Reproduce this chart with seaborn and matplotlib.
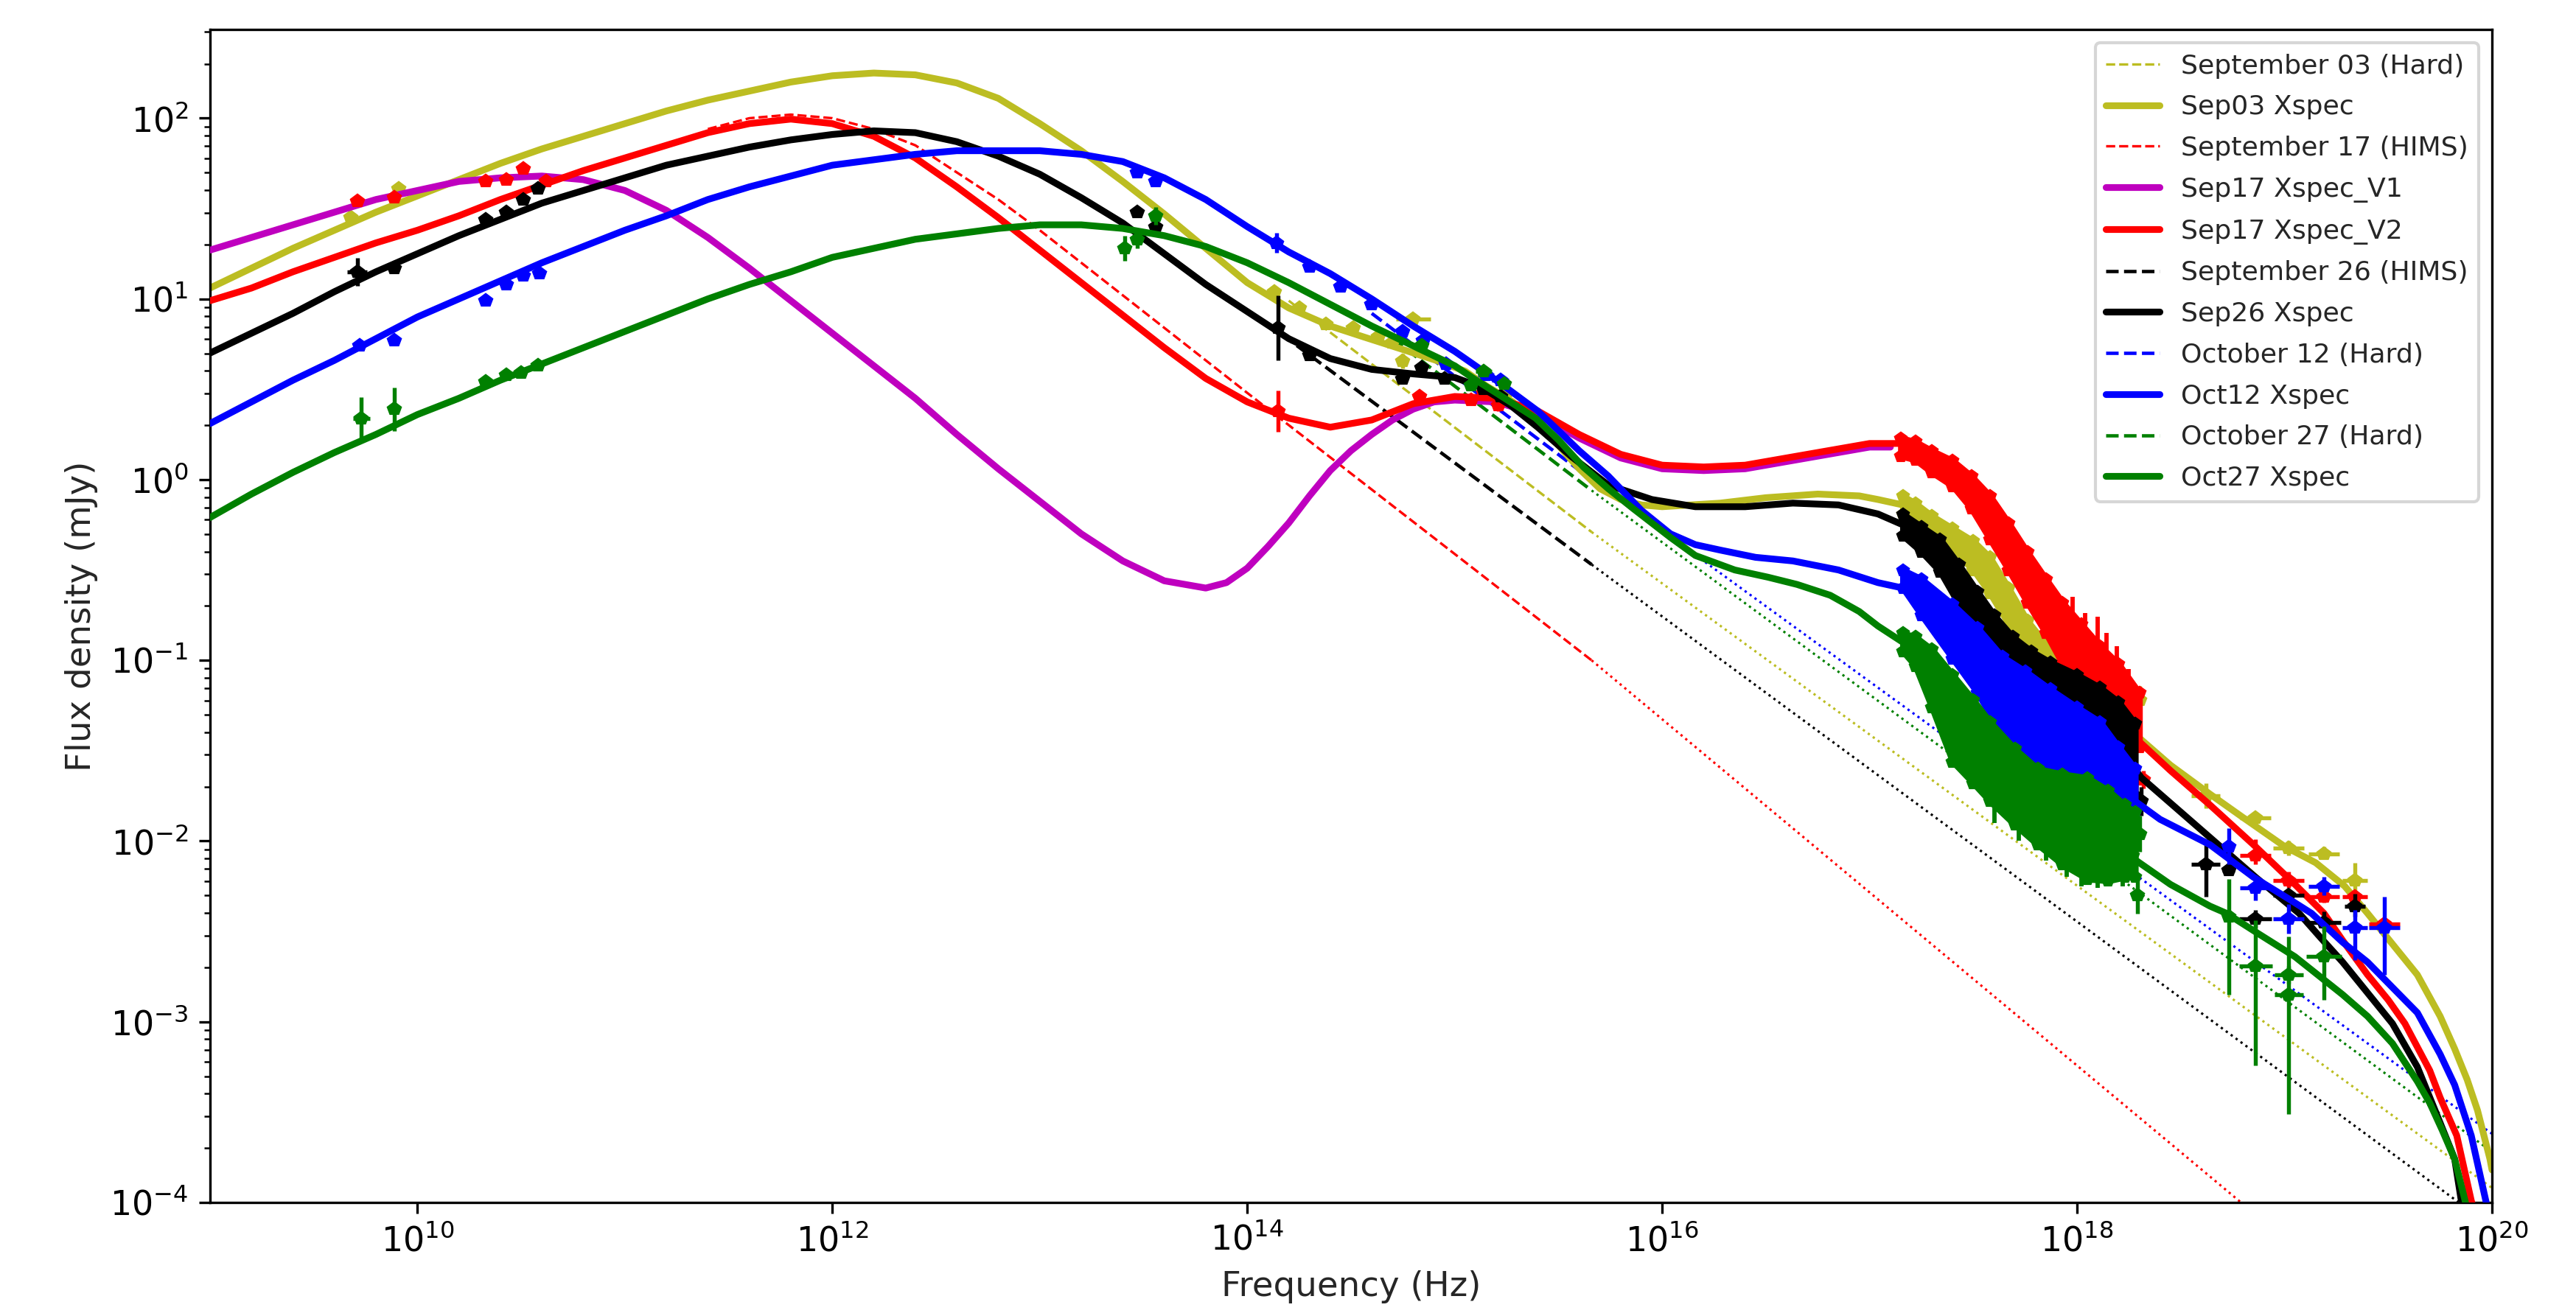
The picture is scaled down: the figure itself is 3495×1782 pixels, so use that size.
import numpy as np
import matplotlib
matplotlib.use("Agg")
import matplotlib.pyplot as plt
import matplotlib.ticker as mticker
import seaborn as sns
from matplotlib.lines import Line2D

# ---------------- model curves: log10(nu/Hz), log10(F/mJy) ----------------
sep03_lognu = [9.0, 9.2, 9.4, 9.6, 9.8, 10.0, 10.2, 10.4, 10.6, 10.8, 11.0, 11.2, 11.4, 11.6, 11.8, 12.0,
               12.2, 12.4, 12.6, 12.8, 13.0, 13.2, 13.4, 13.6, 13.8, 14.0, 14.2, 14.4, 14.56, 14.75, 14.91,
               15.05, 15.15, 15.28, 15.39, 15.5, 15.6, 15.7, 15.8, 15.9, 16.0, 16.28, 16.5, 16.75, 16.95,
               17.04, 17.16, 17.22, 17.3, 17.4, 17.5, 17.58, 17.67, 17.76, 17.85, 17.93, 18.05, 18.15,
               18.23, 18.29, 18.45, 18.64, 18.8, 19.0, 19.15, 19.29, 19.4, 19.52, 19.64, 19.75, 19.82,
               19.88, 19.93, 19.99, 20.0]
sep03_logF = [1.06, 1.17, 1.28, 1.38, 1.48, 1.57, 1.66, 1.75, 1.83, 1.9, 1.97, 2.04, 2.1, 2.15, 2.2, 2.235,
              2.25, 2.24, 2.195, 2.11, 1.97, 1.82, 1.65, 1.47, 1.28, 1.09, 0.95, 0.85, 0.79, 0.72, 0.66,
              0.6, 0.52, 0.43, 0.32, 0.19, 0.06, -0.05, -0.11, -0.14, -0.15, -0.13, -0.1, -0.08, -0.09,
              -0.11, -0.14, -0.18, -0.25, -0.33, -0.42, -0.53, -0.7, -0.88, -0.99, -1.07, -1.15, -1.23,
              -1.33, -1.42, -1.58, -1.74, -1.87, -2.03, -2.12, -2.25, -2.4, -2.57, -2.74, -2.97, -3.15,
              -3.32, -3.49, -3.76, -3.82]

sep17v1_lognu = [9.0, 9.2, 9.4, 9.6, 9.8, 10.0, 10.2, 10.4, 10.6, 10.8, 11.0, 11.2, 11.4, 11.6, 11.8, 12.0,
                 12.2, 12.4, 12.6, 12.8, 13.0, 13.2, 13.4, 13.6, 13.8, 13.9, 14.0, 14.1, 14.2, 14.3, 14.4,
                 14.5, 14.6, 14.7, 14.8, 14.9, 15.0, 15.2, 15.4, 15.6, 15.8, 16.0, 16.2, 16.4, 16.6, 16.8,
                 17.0, 17.1]
sep17v1_logF = [1.27, 1.34, 1.41, 1.48, 1.55, 1.6, 1.65, 1.67, 1.68, 1.66, 1.6, 1.49, 1.34, 1.17, 0.99, 0.81,
                0.63, 0.45, 0.25, 0.06, -0.12, -0.3, -0.45, -0.56, -0.6, -0.57, -0.49, -0.37, -0.24, -0.09,
                0.05, 0.16, 0.25, 0.33, 0.39, 0.43, 0.44, 0.43, 0.36, 0.23, 0.12, 0.06, 0.05, 0.06, 0.1,
                0.14, 0.18, 0.18]

sep17v2_lognu = [9.0, 9.2, 9.4, 9.6, 9.8, 10.0, 10.2, 10.4, 10.6, 10.8, 11.0, 11.2, 11.4, 11.6, 11.8, 12.0,
                 12.2, 12.4, 12.6, 12.8, 13.0, 13.2, 13.4, 13.6, 13.8, 14.0, 14.2, 14.4, 14.6, 14.8, 15.0,
                 15.2, 15.4, 15.6, 15.8, 16.0, 16.2, 16.4, 16.6, 16.8, 17.0, 17.15, 17.3, 17.4, 17.49,
                 17.58, 17.67, 17.76, 17.85, 17.93, 18.02, 18.11, 18.2, 18.3, 18.45, 18.64, 18.85, 19.05,
                 19.19, 19.28, 19.4, 19.5, 19.58, 19.7, 19.75, 19.83, 19.9, 19.93]
sep17v2_logF = [0.99, 1.06, 1.15, 1.23, 1.31, 1.38, 1.46, 1.55, 1.63, 1.71, 1.78, 1.85, 1.92, 1.97, 1.995, 1.97,
                1.9, 1.78, 1.62, 1.45, 1.27, 1.09, 0.91, 0.73, 0.56, 0.43, 0.34, 0.29, 0.33, 0.42, 0.46,
                0.45, 0.38, 0.25, 0.14, 0.08, 0.07, 0.08, 0.12, 0.16, 0.2, 0.2, 0.1, 0.035, -0.07,
                -0.21, -0.37, -0.54, -0.7, -0.85, -0.96, -1.07, -1.2, -1.45, -1.61, -1.8, -2.02, -2.24,
                -2.4, -2.55, -2.74, -2.88, -3.01, -3.27, -3.42, -3.63, -3.99, -4.1]

sep26_lognu = [9.0, 9.2, 9.4, 9.6, 9.8, 10.0, 10.2, 10.4, 10.6, 10.8, 11.0, 11.2, 11.4, 11.6, 11.8, 12.0,
               12.2, 12.4, 12.6, 12.8, 13.0, 13.2, 13.4, 13.6, 13.8, 14.0, 14.2, 14.4, 14.6, 14.8, 15.0,
               15.13, 15.27, 15.4, 15.56, 15.74, 15.95, 16.16, 16.4, 16.63, 16.85, 17.04, 17.16, 17.25,
               17.34, 17.43, 17.52, 17.6, 17.69, 17.78, 17.87, 18.0, 18.11, 18.2, 18.31, 18.45, 18.64,
               18.86, 19.07, 19.17, 19.28, 19.4, 19.52, 19.64, 19.75, 19.82, 19.86]
sep26_logF = [0.7, 0.81, 0.92, 1.04, 1.15, 1.25, 1.35, 1.44, 1.53, 1.6, 1.67, 1.74, 1.79, 1.84, 1.88, 1.91,
              1.93, 1.92, 1.87, 1.79, 1.69, 1.56, 1.42, 1.25, 1.08, 0.93, 0.78, 0.67, 0.61, 0.585, 0.565,
              0.51, 0.41, 0.29, 0.13, -0.03, -0.11, -0.15, -0.15, -0.13, -0.14, -0.19, -0.25, -0.33,
              -0.42, -0.58, -0.75, -0.88, -1.0, -1.08, -1.15, -1.25, -1.36, -1.48, -1.65, -1.79, -1.98,
              -2.2, -2.4, -2.53, -2.67, -2.84, -3.01, -3.25, -3.56, -3.76, -4.05]

oct12_lognu = [9.0, 9.2, 9.4, 9.6, 9.8, 10.0, 10.2, 10.4, 10.6, 10.8, 11.0, 11.2, 11.4, 11.6, 11.8, 12.0,
               12.2, 12.4, 12.6, 12.8, 13.0, 13.2, 13.4, 13.6, 13.8, 14.0, 14.2, 14.4, 14.6, 14.8, 15.0,
               15.2, 15.4, 15.51, 15.6, 15.74, 15.9, 16.04, 16.16, 16.28, 16.45, 16.63, 16.85, 17.04,
               17.16, 17.25, 17.4, 17.52, 17.64, 17.75, 17.87, 18.0, 18.11, 18.2, 18.28, 18.4, 18.64,
               18.85, 19.02, 19.13, 19.28, 19.4, 19.52, 19.64, 19.75, 19.82, 19.9, 19.97, 20.0]
oct12_logF = [0.31, 0.43, 0.55, 0.66, 0.78, 0.9, 1.0, 1.1, 1.2, 1.29, 1.38, 1.46, 1.55, 1.62, 1.68, 1.74,
              1.77, 1.8, 1.82, 1.82, 1.82, 1.8, 1.76, 1.67, 1.55, 1.4, 1.26, 1.14, 1.0, 0.85, 0.71,
              0.55, 0.38, 0.26, 0.16, 0.02, -0.17, -0.3, -0.36, -0.39, -0.43, -0.45, -0.5, -0.57,
              -0.6, -0.67, -0.84, -1.0, -1.18, -1.32, -1.45, -1.53, -1.6, -1.68, -1.78, -1.88, -2.02,
              -2.2, -2.32, -2.4, -2.56, -2.67, -2.81, -2.95, -3.18, -3.35, -3.63, -3.99, -4.15]

oct27_lognu = [9.0, 9.2, 9.4, 9.6, 9.8, 10.0, 10.2, 10.4, 10.6, 10.8, 11.0, 11.2, 11.4, 11.6, 11.8, 12.0,
               12.2, 12.4, 12.6, 12.8, 13.0, 13.2, 13.4, 13.6, 13.8, 14.0, 14.2, 14.4, 14.6, 14.8, 15.0,
               15.09, 15.2, 15.39, 15.5, 15.62, 15.74, 15.86, 16.04, 16.16, 16.35, 16.51, 16.65, 16.81,
               16.95, 17.04, 17.16, 17.3, 17.5, 17.7, 17.9, 18.1, 18.25, 18.45, 18.64, 18.72, 18.87,
               19.05, 19.28, 19.4, 19.52, 19.64, 19.7, 19.76, 19.82, 19.87, 19.9]
oct27_logF = [-0.21, -0.08, 0.04, 0.15, 0.25, 0.36, 0.45, 0.55, 0.64, 0.73, 0.82, 0.91, 1.0, 1.08, 1.15, 1.23,
              1.28, 1.33, 1.36, 1.39, 1.41, 1.41, 1.39, 1.35, 1.29, 1.2, 1.09, 0.97, 0.85, 0.74, 0.63,
              0.56, 0.48, 0.34, 0.22, 0.07, -0.05, -0.16, -0.32, -0.42, -0.5, -0.54, -0.58, -0.64,
              -0.73, -0.81, -0.9, -1.08, -1.35, -1.6, -1.8, -1.95, -2.08, -2.24, -2.36, -2.4, -2.51,
              -2.64, -2.85, -2.97, -3.12, -3.33, -3.45, -3.6, -3.76, -3.99, -4.15]

# jet ("Hard"/"HIMS") models: dashed part, then dotted extrapolation
sep03_hard_dash_lognu = [14.2, 15.66]
sep03_hard_dash_logF = [0.99, -0.29]
sep03_hard_dot_lognu = [15.66, 20.0]
sep03_hard_dot_logF = [-0.29, -3.92]
sep17_hims_dash_lognu = [11.4, 11.6, 11.8, 12.0, 12.2, 12.4, 12.6, 12.8, 13.0, 14.0, 15.66]
sep17_hims_dash_logF = [1.94, 2.0, 2.02, 2.0, 1.94, 1.85, 1.7, 1.55, 1.38, 0.48, -1.0]
sep17_hims_dot_lognu = [15.66, 18.79]
sep17_hims_dot_logF = [-1.0, -4.0]
sep26_hims_dash_lognu = [14.1, 15.66]
sep26_hims_dash_logF = [0.86, -0.47]
sep26_hims_dot_lognu = [15.66, 19.84]
sep26_hims_dot_logF = [-0.47, -4.0]
oct12_hard_dash_lognu = [14.6, 15.66]
oct12_hard_dash_logF = [0.92, 0.0]
oct12_hard_dot_lognu = [15.66, 20.0]
oct12_hard_dot_logF = [0.0, -3.62]
oct27_hard_dash_lognu = [14.7, 15.66]
oct27_hard_dash_logF = [0.78, -0.06]
oct27_hard_dot_lognu = [15.66, 20.0]
oct27_hard_dot_logF = [-0.06, -3.72]

# ---------------- soft X-ray spectra: band centre and half width (dex) ----------------
sep03_xr_lognu = [17.16, 17.22, 17.3, 17.4, 17.5, 17.58, 17.67, 17.76, 17.85, 17.93, 18.05, 18.15, 18.25]
sep03_xr_logF = [-0.14, -0.18, -0.25, -0.33, -0.42, -0.53, -0.7, -0.88, -0.99, -1.07, -1.15, -1.2, -1.27]
sep03_xr_hw = [0.05, 0.05, 0.05, 0.06, 0.08, 0.1, 0.1, 0.1, 0.08, 0.07, 0.07, 0.08, 0.1]

sep17_xr_lognu = [17.15, 17.22, 17.3, 17.4, 17.49, 17.58, 17.67, 17.76, 17.85, 17.93, 18.02, 18.11, 18.2, 18.3]
sep17_xr_logF = [0.18, 0.16, 0.1, 0.035, -0.07, -0.21, -0.37, -0.54, -0.7, -0.85, -0.96, -1.07, -1.16, -1.33]
sep17_xr_hw = [0.05, 0.05, 0.06, 0.07, 0.09, 0.12, 0.13, 0.14, 0.15, 0.17, 0.16, 0.15, 0.14, 0.15]

sep26_xr_lognu = [17.16, 17.25, 17.34, 17.43, 17.52, 17.6, 17.69, 17.78, 17.87, 18.0, 18.11, 18.2, 18.28]
sep26_xr_logF = [-0.25, -0.33, -0.42, -0.58, -0.75, -0.88, -1.0, -1.08, -1.15, -1.22, -1.29, -1.4, -1.55]
sep26_xr_hw = [0.06, 0.07, 0.09, 0.11, 0.13, 0.13, 0.13, 0.13, 0.14, 0.14, 0.14, 0.17, 0.2]

oct12_xr_lognu = [17.16, 17.25, 17.4, 17.52, 17.64, 17.75, 17.87, 18.0, 18.11, 18.2, 18.28]
oct12_xr_logF = [-0.55, -0.65, -0.84, -1.0, -1.2, -1.33, -1.46, -1.53, -1.57, -1.65, -1.72]
oct12_xr_hw = [0.05, 0.1, 0.15, 0.18, 0.22, 0.27, 0.3, 0.27, 0.23, 0.17, 0.12]

oct27_xr_lognu = [17.16, 17.22, 17.3, 17.4, 17.5, 17.58, 17.7, 17.81, 17.93, 18.05, 18.15, 18.23, 18.28]
oct27_xr_logF = [-0.9, -0.95, -1.1, -1.32, -1.45, -1.56, -1.7, -1.81, -1.88, -1.93, -1.97, -2.0, -2.02]
oct27_xr_hw = [0.05, 0.08, 0.16, 0.24, 0.23, 0.22, 0.21, 0.21, 0.25, 0.28, 0.25, 0.2, 0.18]

# individual noisy X-ray bins sticking out of the bands: log nu, log F, half error (dex)
sep17_sp_lognu = [17.98, 18.04, 18.1, 18.14, 18.19, 18.25]
sep17_sp_logF = [-0.85, -0.92, -0.98, -1.05, -1.12, -1.25]
sep17_sp_dy = [0.2, 0.18, 0.22, 0.2, 0.2, 0.2]
oct12_sp_lognu = [17.5, 17.73, 17.95, 18.1, 18.2]
oct12_sp_logF = [-0.98, -1.3, -1.47, -1.52, -1.78]
oct12_sp_dy = [0.05, 0.06, 0.08, 0.1, 0.08]
oct27_sp_lognu = [17.6, 17.72, 17.85, 17.95, 18.02, 18.1, 18.16, 18.22, 18.27]
oct27_sp_logF = [-1.78, -1.88, -1.98, -2.06, -2.1, -2.12, -2.1, -2.12, -2.08]
oct27_sp_dy = [0.12, 0.12, 0.13, 0.14, 0.15, 0.14, 0.13, 0.13, 0.12]

# ---------------- radio / IR / optical / UV points (log nu, log F, x and y half errors in dex) ----------------
sep03_pt_lognu = [9.68, 9.91, 14.13, 14.25, 14.38, 14.51, 14.63, 14.7, 14.75, 14.8, 15.25]
sep03_pt_logF = [1.45, 1.61, 1.04, 0.95, 0.86, 0.84, 0.79, 0.76, 0.655, 0.89, 0.48]
sep03_pt_dx = [0.02, 0.02, 0.01, 0.01, 0.01, 0.01, 0.01, 0.01, 0.01, 0.083, 0.01]
sep03_pt_dy = [0.02, 0.02, 0.02, 0.02, 0.02, 0.02, 0.02, 0.02, 0.04, 0.02, 0.02]

sep17_pt_lognu = [9.71, 9.89, 10.33, 10.43, 10.51, 10.62, 14.15, 14.83, 15.08, 15.14, 15.21]
sep17_pt_logF = [1.54, 1.56, 1.65, 1.66, 1.72, 1.65, 0.38, 0.46, 0.44, 0.48, 0.41]
sep17_pt_dx = [0.02, 0.02, 0.01, 0.01, 0.01, 0.01, 0.02, 0.01, 0.01, 0.01, 0.01]
sep17_pt_dy = [0.02, 0.02, 0.02, 0.02, 0.02, 0.02, 0.115, 0.02, 0.02, 0.02, 0.03]

sep26_pt_lognu = [9.71, 9.89, 10.33, 10.43, 10.51, 10.58, 13.47, 13.56, 14.15, 14.3, 14.75, 14.84, 14.95,
                  15.14, 15.22]
sep26_pt_logF = [1.15, 1.17, 1.44, 1.48, 1.55, 1.61, 1.48, 1.4, 0.84, 0.69, 0.56, 0.62, 0.56,
                 0.5, 0.46]
sep26_pt_dx = [0.047, 0.02, 0.01, 0.01, 0.01, 0.01, 0.01, 0.01, 0.02, 0.01, 0.01, 0.01, 0.01, 0.01, 0.01]
sep26_pt_dy = [0.078, 0.02, 0.02, 0.02, 0.02, 0.02, 0.03, 0.03, 0.18, 0.02, 0.02, 0.02, 0.02, 0.02, 0.02]

oct12_pt_lognu = [9.72, 9.89, 10.33, 10.43, 10.51, 10.59, 13.47, 13.56, 14.14, 14.3, 14.45, 14.6, 14.75,
                  14.85, 14.96, 15.15, 15.22]
oct12_pt_logF = [0.74, 0.77, 0.99, 1.08, 1.13, 1.14, 1.7, 1.65, 1.31, 1.18, 1.07, 0.97, 0.82,
                 0.77, 0.64, 0.58, 0.55]
oct12_pt_dx = [0.02, 0.02, 0.01, 0.01, 0.01, 0.01, 0.01, 0.01, 0.02, 0.01, 0.01, 0.01, 0.01,
               0.01, 0.01, 0.04, 0.04]
oct12_pt_dy = [0.02, 0.02, 0.02, 0.02, 0.02, 0.02, 0.02, 0.02, 0.055, 0.02, 0.02, 0.02, 0.02,
               0.02, 0.02, 0.02, 0.02]

oct27_pt_lognu = [9.73, 9.89, 10.33, 10.43, 10.5, 10.58, 13.41, 13.47, 13.56, 14.84, 15.08, 15.14, 15.24]
oct27_pt_logF = [0.34, 0.39, 0.54, 0.58, 0.59, 0.63, 1.28, 1.33, 1.46, 0.74, 0.52, 0.6, 0.53]
oct27_pt_dx = [0.04, 0.02, 0.01, 0.01, 0.01, 0.01, 0.01, 0.01, 0.01, 0.01, 0.01, 0.04, 0.01]
oct27_pt_dy = [0.117, 0.12, 0.02, 0.02, 0.02, 0.02, 0.07, 0.05, 0.05, 0.02, 0.02, 0.02, 0.02]

# ---------------- hard X-ray points (log nu, log F, x half error, y lower / upper error in dex) ----------------
sep03_hx_lognu = [18.3, 18.62, 18.86, 19.02, 19.19, 19.34]
sep03_hx_logF = [-1.22, -1.75, -1.87, -2.04, -2.07, -2.22]
sep03_hx_dx = [0.0, 0.07, 0.075, 0.075, 0.075, 0.06]
sep03_hx_dylo = [0.08, 0.07, 0.03, 0.04, 0.03, 0.07]
sep03_hx_dyhi = [0.08, 0.07, 0.03, 0.04, 0.04, 0.1]

sep17_hx_lognu = [18.32, 18.86, 19.02, 19.19, 19.34, 19.48]
sep17_hx_logF = [-1.66, -2.08, -2.22, -2.31, -2.31, -2.46]
sep17_hx_dx = [0.0, 0.075, 0.075, 0.075, 0.06, 0.075]
sep17_hx_dylo = [0.05, 0.05, 0.04, 0.03, 0.03, 0.03]
sep17_hx_dyhi = [0.05, 0.09, 0.05, 0.03, 0.03, 0.03]

sep26_hx_lognu = [18.31, 18.62, 18.73, 18.86, 19.02, 19.19, 19.34]
sep26_hx_logF = [-1.78, -2.13, -2.16, -2.43, -2.3, -2.45, -2.36]
sep26_hx_dx = [0.0, 0.07, 0.03, 0.078, 0.075, 0.08, 0.05]
sep26_hx_dylo = [0.08, 0.18, 0.03, 0.05, 0.03, 0.05, 0.06]
sep26_hx_dyhi = [0.08, 0.14, 0.03, 0.05, 0.03, 0.06, 0.07]

oct12_hx_lognu = [18.73, 18.86, 19.02, 19.19, 19.34, 19.48]
oct12_hx_logF = [-2.03, -2.26, -2.43, -2.25, -2.48, -2.48]
oct12_hx_dx = [0.02, 0.075, 0.075, 0.075, 0.06, 0.075]
oct12_hx_dylo = [0.1, 0.07, 0.08, 0.05, 0.18, 0.26]
oct12_hx_dyhi = [0.1, 0.07, 0.08, 0.05, 0.1, 0.17]

oct27_hx_lognu = [18.3, 18.29, 18.73, 18.86, 19.02, 19.02, 19.19]
oct27_hx_logF = [-1.96, -2.3, -2.42, -2.69, -2.74, -2.85, -2.64]
oct27_hx_dx = [0.0, 0.0, 0.02, 0.08, 0.07, 0.07, 0.085]
oct27_hx_dylo = [0.1, 0.1, 0.43, 0.55, 0.05, 0.66, 0.24]
oct27_hx_dyhi = [0.1, 0.1, 0.21, 0.25, 0.05, 0.32, 0.17]

# axis ticks
x_tick_exponents = [10, 12, 14, 16, 18, 20]
y_tick_exponents = [-4, -3, -2, -1, 0, 1, 2]

# ---------------- styling ----------------
C_OLIVE = '#bcbd22'
C_RED = '#ff0000'
C_MAG = '#bf00bf'
C_BLACK = '#000000'
C_BLUE = '#0000ff'
C_GREEN = '#008000'

sns.set_style("ticks")
plt.rcParams['font.family'] = ['DejaVu Sans']
plt.rcParams['mathtext.fontset'] = 'dejavusans'

fig = plt.figure(figsize=(3495 / 300, 1782 / 300), dpi=300)
ax = fig.add_axes([0.0815, 0.0842, 0.8859, 0.8934])
ax.set_xscale('log')
ax.set_yscale('log')


def P(a):
    return 10.0 ** np.asarray(a, dtype=float)


def line(lx, ly, color, lw, ls='-', z=2):
    sns.lineplot(x=P(lx), y=P(ly), ax=ax, color=color, linewidth=lw, linestyle=ls,
                 estimator=None, sort=False, zorder=z, legend=False)


def band(lx, ly, hw, color, z):
    ly = np.asarray(ly)
    hw = np.asarray(hw)
    ax.fill_between(P(lx), P(ly - hw), P(ly + hw), facecolor=color, edgecolor=color, lw=2.0, zorder=z)
    ax.plot(P(lx), P(ly + hw), 'p', color=color, ms=3.5, zorder=z)
    ax.plot(P(lx), P(ly - hw), 'p', color=color, ms=3.5, zorder=z)


def spikes(lx, ly, dy, color, z):
    lx = np.asarray(lx); ly = np.asarray(ly); dy = np.asarray(dy)
    y = P(ly)
    ax.errorbar(P(lx), y, yerr=[y - P(ly - dy), P(ly + dy) - y], fmt='p', ms=3.5, color=color,
                elinewidth=1.4, capsize=0, zorder=z)


def points(lx, ly, dx, dylo, dyhi, color, z):
    lx = np.asarray(lx); ly = np.asarray(ly); dx = np.asarray(dx)
    dylo = np.asarray(dylo); dyhi = np.asarray(dyhi)
    x = P(lx); y = P(ly)
    xerr = [x - P(lx - dx), P(lx + dx) - x]
    yerr = [y - P(ly - dylo), P(ly + dyhi) - y]
    ax.errorbar(x, y, xerr=xerr, yerr=yerr, fmt='p', ms=3.8, color=color,
                elinewidth=1.3, capsize=0, zorder=z)


LW = 2.2
# jet models (below everything)
line(sep03_hard_dash_lognu, sep03_hard_dash_logF, C_OLIVE, 0.8, '--', 1.5)
line(sep03_hard_dot_lognu, sep03_hard_dot_logF, C_OLIVE, 0.75, ':', 1.5)
line(sep17_hims_dash_lognu, sep17_hims_dash_logF, C_RED, 0.8, '--', 1.5)
line(sep17_hims_dot_lognu, sep17_hims_dot_logF, C_RED, 0.75, ':', 1.5)
line(sep26_hims_dash_lognu, sep26_hims_dash_logF, C_BLACK, 1.1, '--', 1.5)
line(sep26_hims_dot_lognu, sep26_hims_dot_logF, C_BLACK, 0.75, ':', 1.5)
line(oct12_hard_dash_lognu, oct12_hard_dash_logF, C_BLUE, 1.1, '--', 1.5)
line(oct12_hard_dot_lognu, oct12_hard_dot_logF, C_BLUE, 0.75, ':', 1.5)
line(oct27_hard_dash_lognu, oct27_hard_dash_logF, C_GREEN, 1.1, '--', 1.5)
line(oct27_hard_dot_lognu, oct27_hard_dot_logF, C_GREEN, 0.75, ':', 1.5)

# Sep 03
line(sep03_lognu, sep03_logF, C_OLIVE, LW, '-', 2.0)
band(sep03_xr_lognu, sep03_xr_logF, sep03_xr_hw, C_OLIVE, 2.1)
points(sep03_pt_lognu, sep03_pt_logF, sep03_pt_dx, sep03_pt_dy, sep03_pt_dy, C_OLIVE, 2.2)
points(sep03_hx_lognu, sep03_hx_logF, sep03_hx_dx, sep03_hx_dylo, sep03_hx_dyhi, C_OLIVE, 2.2)
# Sep 17
line(sep17v1_lognu, sep17v1_logF, C_MAG, LW, '-', 3.0)
line(sep17v2_lognu, sep17v2_logF, C_RED, LW, '-', 3.05)
band(sep17_xr_lognu, sep17_xr_logF, sep17_xr_hw, C_RED, 3.1)
spikes(sep17_sp_lognu, sep17_sp_logF, sep17_sp_dy, C_RED, 3.1)
points(sep17_pt_lognu, sep17_pt_logF, sep17_pt_dx, sep17_pt_dy, sep17_pt_dy, C_RED, 3.2)
points(sep17_hx_lognu, sep17_hx_logF, sep17_hx_dx, sep17_hx_dylo, sep17_hx_dyhi, C_RED, 3.2)
# Sep 26
line(sep26_lognu, sep26_logF, C_BLACK, LW, '-', 4.0)
band(sep26_xr_lognu, sep26_xr_logF, sep26_xr_hw, C_BLACK, 4.1)
points(sep26_pt_lognu, sep26_pt_logF, sep26_pt_dx, sep26_pt_dy, sep26_pt_dy, C_BLACK, 4.2)
points(sep26_hx_lognu, sep26_hx_logF, sep26_hx_dx, sep26_hx_dylo, sep26_hx_dyhi, C_BLACK, 4.2)
# Oct 12
line(oct12_lognu, oct12_logF, C_BLUE, LW, '-', 5.0)
band(oct12_xr_lognu, oct12_xr_logF, oct12_xr_hw, C_BLUE, 5.1)
spikes(oct12_sp_lognu, oct12_sp_logF, oct12_sp_dy, C_BLUE, 5.1)
points(oct12_pt_lognu, oct12_pt_logF, oct12_pt_dx, oct12_pt_dy, oct12_pt_dy, C_BLUE, 5.2)
points(oct12_hx_lognu, oct12_hx_logF, oct12_hx_dx, oct12_hx_dylo, oct12_hx_dyhi, C_BLUE, 5.2)
# Oct 27
line(oct27_lognu, oct27_logF, C_GREEN, LW, '-', 6.0)
band(oct27_xr_lognu, oct27_xr_logF, oct27_xr_hw, C_GREEN, 6.1)
spikes(oct27_sp_lognu, oct27_sp_logF, oct27_sp_dy, C_GREEN, 6.1)
points(oct27_pt_lognu, oct27_pt_logF, oct27_pt_dx, oct27_pt_dy, oct27_pt_dy, C_GREEN, 6.2)
points(oct27_hx_lognu, oct27_hx_logF, oct27_hx_dx, oct27_hx_dylo, oct27_hx_dyhi, C_GREEN, 6.2)

ax.set_xlim(1e9, 1e20)
ax.set_ylim(1e-4, 3.1e2)
ax.xaxis.set_major_locator(mticker.FixedLocator(P(x_tick_exponents)))
ax.yaxis.set_major_locator(mticker.FixedLocator(P(y_tick_exponents)))
ax.xaxis.set_minor_locator(mticker.NullLocator())
y_minor = [m * 10.0 ** e for e in y_tick_exponents for m in range(2, 10) if m * 10.0 ** e <= 3.1e2]
ax.yaxis.set_minor_locator(mticker.FixedLocator(y_minor))
ax.yaxis.set_minor_formatter(mticker.NullFormatter())
for s in ax.spines.values():
    s.set_visible(True)
    s.set_linewidth(0.8)
    s.set_color('black')
ax.tick_params(axis='both', which='major', labelsize=11, direction='out', length=3.5, width=0.8,
               color='black', labelcolor='black')
ax.tick_params(axis='both', which='minor', direction='out', length=2, width=0.6, color='black')
ax.set_xlabel('Frequency (Hz)', fontsize=11.2)
ax.set_ylabel('Flux density (mJy)', fontsize=11.2)

legend_labels = ['September 03 (Hard)', 'Sep03 Xspec', 'September 17 (HIMS)', 'Sep17 Xspec_V1',
                 'Sep17 Xspec_V2', 'September 26 (HIMS)', 'Sep26 Xspec', 'October 12 (Hard)',
                 'Oct12 Xspec', 'October 27 (Hard)', 'Oct27 Xspec']
handles = [Line2D([], [], color=C_OLIVE, lw=0.8, ls='--'),
           Line2D([], [], color=C_OLIVE, lw=LW),
           Line2D([], [], color=C_RED, lw=0.8, ls='--'),
           Line2D([], [], color=C_MAG, lw=LW),
           Line2D([], [], color=C_RED, lw=LW),
           Line2D([], [], color=C_BLACK, lw=1.1, ls='--'),
           Line2D([], [], color=C_BLACK, lw=LW),
           Line2D([], [], color=C_BLUE, lw=1.1, ls='--'),
           Line2D([], [], color=C_BLUE, lw=LW),
           Line2D([], [], color=C_GREEN, lw=1.1, ls='--'),
           Line2D([], [], color=C_GREEN, lw=LW)]
leg = ax.legend(handles, legend_labels, loc='upper right', fontsize=8.7, framealpha=0.8,
                edgecolor='0.8', fancybox=True, labelspacing=0.6)
leg.set_zorder(10)

fig.savefig('out.png', dpi=300)
